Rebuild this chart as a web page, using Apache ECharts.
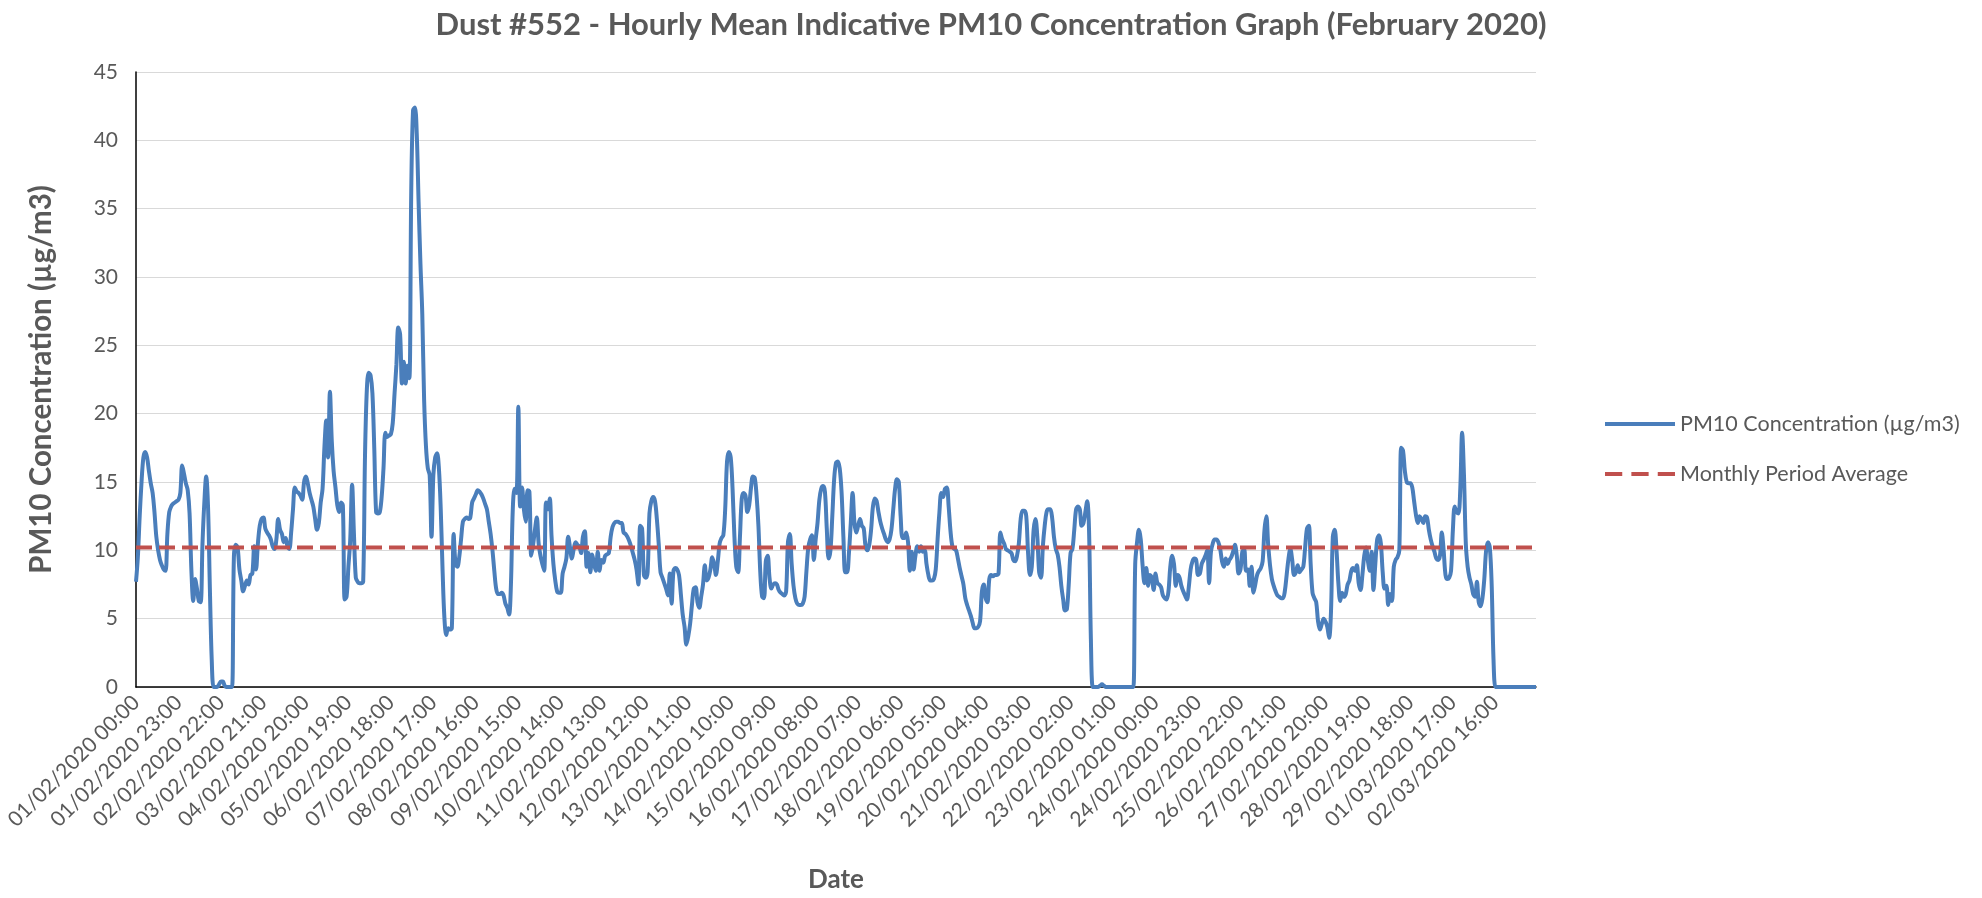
<!DOCTYPE html>
<html>
<head>
<meta charset="utf-8">
<script src="https://cdn.jsdelivr.net/npm/echarts@6/dist/echarts.min.js"></script>
<style>
  html, body { margin: 0; padding: 0; background: #fff; }
  #chart { width: 1982px; height: 898px; }
</style>
</head>
<body>
<div id="chart"></div>
<script>
// Hourly PM10 values (µg/m3), one array per day, starting 01/02/2020 00:00
const feb01 = [7.7, 9.5, 12.5, 15.0, 16.8, 17.2, 16.8, 15.8, 14.9, 14.2, 12.8, 11.0, 10.0, 9.3, 8.9, 8.6, 8.5, 11.2, 12.8, 13.2, 13.4, 13.5, 13.6, 13.7];
const feb02 = [14.2, 16.2, 15.6, 14.9, 14.4, 12.7, 8.5, 6.3, 7.9, 7.2, 6.3, 6.2, 10.5, 13.5, 15.4, 13.2, 7.2, 2.0, 0, 0, 0, 0.2, 0.4, 0.4];
const feb03 = [0.1, 0, 0, 0, 0, 9.5, 10.4, 10.2, 8.6, 7.8, 7.0, 7.4, 7.8, 7.5, 8.2, 8.3, 10.3, 8.6, 10.5, 11.8, 12.3, 12.4, 11.6, 11.3];
const feb04 = [11.1, 10.8, 10.3, 10.1, 10.8, 12.3, 11.5, 11.2, 10.6, 10.9, 10.3, 10.1, 11.3, 13.0, 14.6, 14.3, 14.2, 14.0, 13.7, 15.0, 15.4, 14.9, 14.2, 13.7];
const feb05 = [13.2, 12.3, 11.5, 12.0, 13.5, 14.5, 17.5, 19.5, 16.8, 21.6, 18.0, 15.8, 14.6, 13.3, 12.8, 13.5, 13.3, 6.4, 6.6, 8.8, 10.8, 14.8, 11.2, 8.0];
const feb06 = [7.7, 7.6, 7.6, 7.7, 17.0, 21.8, 23.0, 22.8, 21.5, 17.5, 12.8, 12.7, 12.8, 13.9, 16.0, 18.6, 18.3, 18.4, 18.5, 19.3, 21.5, 23.6, 26.3, 25.8];
const feb07 = [22.2, 23.8, 22.2, 23.5, 22.6, 36.0, 42.2, 42.4, 40.5, 35.5, 31.0, 27.3, 21.0, 17.6, 16.0, 15.5, 11.0, 15.5, 16.8, 17.1, 16.0, 13.0, 8.5, 5.0];
const feb08 = [3.8, 4.3, 4.2, 4.3, 11.2, 9.0, 8.8, 9.5, 10.8, 12.1, 12.3, 12.4, 12.3, 12.4, 13.5, 13.8, 14.1, 14.4, 14.3, 14.1, 13.8, 13.4, 13.0, 12.1];
const feb09 = [11.2, 10.0, 8.5, 7.2, 6.8, 6.8, 6.9, 6.7, 6.1, 5.8, 5.3, 7.5, 13.0, 14.5, 14.2, 20.5, 13.2, 14.6, 13.0, 12.1, 14.4, 14.3, 9.6, 10.4];
const feb10 = [11.5, 12.4, 10.5, 9.6, 9.0, 8.5, 13.5, 13.0, 13.8, 11.0, 9.0, 7.8, 7.0, 6.9, 6.9, 8.3, 8.8, 9.4, 11.0, 10.2, 9.4, 10.1, 10.6, 10.4];
const feb11 = [10.3, 9.8, 11.0, 11.4, 8.8, 9.8, 8.4, 9.7, 9.0, 8.5, 9.9, 8.5, 9.3, 9.1, 9.6, 9.7, 9.8, 11.0, 11.7, 12.0, 12.1, 12.1, 12.0, 12.0];
const feb12 = [11.3, 11.2, 11.0, 10.7, 10.3, 9.8, 9.3, 8.6, 7.5, 11.8, 11.6, 8.2, 8.0, 8.4, 12.7, 13.6, 13.9, 13.6, 12.3, 10.5, 8.4, 8.0, 7.6, 7.2];
const feb13 = [6.7, 8.3, 6.1, 8.5, 8.7, 8.6, 8.2, 6.8, 5.3, 4.4, 3.1, 3.7, 4.6, 6.0, 7.2, 7.3, 6.2, 5.8, 6.6, 7.5, 8.9, 7.8, 8.0, 8.6];
const feb14 = [9.5, 9.0, 8.2, 9.2, 10.5, 10.9, 11.1, 13.0, 16.5, 17.2, 16.8, 14.5, 11.0, 8.8, 8.4, 11.0, 13.8, 14.2, 14.0, 12.8, 13.3, 14.6, 15.4, 15.3];
const feb15 = [14.0, 11.8, 8.4, 6.6, 6.5, 9.2, 9.6, 8.0, 7.2, 7.5, 7.6, 7.5, 7.1, 6.9, 6.8, 6.7, 7.0, 10.6, 11.2, 9.0, 7.4, 6.5, 6.1, 6.0];
const feb16 = [6.0, 6.1, 6.6, 8.5, 10.2, 10.8, 11.1, 9.3, 10.8, 12.0, 13.7, 14.5, 14.7, 14.3, 11.6, 9.4, 10.0, 12.5, 15.2, 16.4, 16.5, 16.0, 14.3, 11.0];
const feb17 = [8.4, 8.4, 9.8, 12.0, 14.2, 12.0, 11.3, 11.8, 12.3, 11.8, 11.6, 10.3, 10.0, 10.4, 11.5, 13.2, 13.8, 13.6, 12.8, 12.1, 11.6, 11.2, 10.8, 10.6];
const feb18 = [10.8, 11.5, 13.0, 14.5, 15.2, 15.0, 12.5, 10.9, 10.9, 11.3, 10.6, 8.5, 9.9, 8.6, 9.6, 10.3, 9.9, 10.3, 9.9, 10.0, 9.0, 8.2, 7.8, 7.8];
const feb19 = [7.9, 8.6, 10.8, 12.8, 14.2, 13.9, 14.5, 14.6, 13.2, 11.4, 10.3, 10.1, 10.0, 9.4, 8.7, 8.1, 7.5, 6.5, 6.0, 5.6, 5.2, 4.7, 4.3, 4.3];
const feb20 = [4.4, 4.8, 7.0, 7.5, 6.5, 6.2, 7.9, 8.2, 8.1, 8.2, 8.2, 8.3, 11.3, 10.8, 10.5, 10.1, 10.0, 9.9, 9.8, 9.3, 9.2, 9.6, 10.5, 12.3];
const feb21 = [12.9, 12.9, 12.5, 9.8, 8.2, 8.8, 11.5, 12.3, 11.0, 8.4, 8.0, 10.3, 11.8, 12.8, 13.0, 13.0, 12.4, 11.0, 10.1, 9.7, 8.8, 7.4, 6.4, 5.6];
const feb22 = [5.7, 7.5, 9.8, 10.1, 11.5, 13.0, 13.2, 13.0, 11.8, 12.0, 12.8, 13.6, 11.5, 3.5, 0, 0, 0, 0, 0.1, 0.2, 0.1, 0, 0, 0];
const feb23 = [0, 0, 0, 0, 0, 0, 0, 0, 0, 0, 0, 0, 0, 9.0, 10.6, 11.5, 10.8, 8.9, 7.6, 8.7, 7.4, 8.2, 8.0, 7.1];
const feb24 = [8.3, 7.6, 7.5, 7.3, 6.7, 6.5, 6.4, 7.0, 8.8, 9.6, 9.0, 7.4, 8.2, 8.0, 7.4, 7.0, 6.7, 6.4, 7.3, 8.6, 9.2, 9.4, 9.3, 8.2];
const feb25 = [8.3, 9.0, 9.3, 9.6, 10.0, 7.6, 9.9, 10.5, 10.8, 10.8, 10.6, 10.1, 9.2, 8.8, 9.4, 9.0, 9.3, 9.5, 9.9, 10.4, 9.6, 8.3, 8.6, 9.9];
const feb26 = [10.1, 8.5, 8.6, 7.4, 8.8, 6.9, 7.5, 8.2, 8.5, 8.7, 9.2, 11.5, 12.5, 10.4, 8.9, 7.9, 7.4, 7.0, 6.7, 6.6, 6.5, 6.5, 7.0, 8.2];
const feb27 = [9.4, 10.1, 9.3, 8.2, 8.4, 8.9, 8.4, 8.6, 8.8, 10.2, 11.6, 11.8, 9.0, 6.9, 6.5, 6.2, 4.8, 4.2, 4.6, 5.0, 4.8, 4.4, 3.6, 5.5];
const feb28 = [11.0, 11.5, 10.0, 7.6, 6.3, 6.9, 6.6, 6.8, 7.5, 7.8, 8.5, 8.7, 8.5, 8.9, 7.6, 7.1, 8.2, 9.6, 10.2, 9.2, 8.5, 9.9, 7.1, 9.0];
const feb29 = [10.8, 11.1, 10.5, 8.4, 7.2, 7.4, 6.0, 6.8, 6.3, 8.8, 9.3, 9.5, 10.0, 17.5, 17.3, 15.8, 15.0, 14.9, 14.9, 14.6, 13.6, 12.6, 12.0, 12.5];
const mar01 = [12.3, 12.0, 12.5, 12.4, 11.5, 10.8, 10.3, 9.9, 9.4, 9.3, 9.6, 11.3, 10.0, 8.2, 7.9, 8.0, 8.5, 11.5, 13.2, 12.8, 12.7, 14.5, 18.6, 15.5];
const mar02 = [10.5, 8.8, 8.0, 7.5, 6.8, 6.6, 7.7, 6.2, 5.9, 6.5, 7.9, 10.0, 10.6, 10.2, 7.5, 2.0, 0, 0, 0, 0, 0, 0, 0, 0];
const mar03 = [0, 0, 0, 0, 0, 0, 0, 0, 0, 0, 0, 0, 0, 0, 0];

const monthlyAverage = 10.2;
const seriesNames = ['PM10 Concentration (µg/m3)', 'Monthly Period Average'];
const chartTitle = 'Dust #552 - Hourly Mean Indicative PM10 Concentration Graph (February 2020)';
const yTicks = { min: 0, max: 45, step: 5 };

const pm10 = [].concat(feb01, feb02, feb03, feb04, feb05, feb06, feb07, feb08, feb09, feb10,
  feb11, feb12, feb13, feb14, feb15, feb16, feb17, feb18, feb19, feb20,
  feb21, feb22, feb23, feb24, feb25, feb26, feb27, feb28, feb29, mar01, mar02, mar03);

// hourly category labels from 01/02/2020 00:00
const startUTC = Date.UTC(2020, 1, 1, 0, 0);
const pad = n => String(n).padStart(2, '0');
const categories = pm10.map((_, i) => {
  const d = new Date(startUTC + i * 3600000);
  return pad(d.getUTCDate()) + '/' + pad(d.getUTCMonth() + 1) + '/' + d.getUTCFullYear() + ' ' + pad(d.getUTCHours()) + ':00';
});
const averageLine = categories.map(() => monthlyAverage);

const FONT = 'Lato, "Open Sans", sans-serif';
const GREY = '#595959';

const chart = echarts.init(document.getElementById('chart'), null, { renderer: 'canvas' });
chart.setOption({
  animation: false,
  backgroundColor: '#ffffff',
  title: {
    text: chartTitle,
    left: 'center',
    top: 4,
    textStyle: { fontFamily: FONT, fontSize: 31, fontWeight: 'bold', color: GREY }
  },
  legend: {
    orient: 'vertical',
    left: 1600,
    top: 408,
    itemWidth: 70,
    itemHeight: 14,
    itemGap: 28,
    textStyle: { fontFamily: FONT, fontSize: 21.5, color: GREY },
    data: [
      { name: seriesNames[0], icon: 'path://M0,5 L70,5 L70,9 L0,9 Z' },
      { name: seriesNames[1], icon: 'path://M0,5 L17,5 L17,9 L0,9 Z M26,5 L43,5 L43,9 L26,9 Z M52,5 L69,5 L69,9 L52,9 Z',
        itemStyle: { borderWidth: 0 } }
    ]
  },
  grid: { left: 136, right: 446, top: 72, bottom: 204 },
  xAxis: {
    type: 'category',
    data: categories,
    boundaryGap: false,
    name: 'Date',
    nameLocation: 'middle',
    nameGap: 180,
    nameTextStyle: { fontFamily: FONT, fontSize: 26, fontWeight: 'bold', color: GREY },
    axisLine: { lineStyle: { color: '#000000', width: 1.5 } },
    axisTick: { show: false },
    axisLabel: {
      interval: 22,
      rotate: 45,
      margin: 12,
      fontFamily: FONT,
      fontSize: 21,
      color: GREY
    },
    splitLine: { show: false }
  },
  yAxis: {
    type: 'value',
    min: yTicks.min,
    max: yTicks.max,
    interval: yTicks.step,
    name: 'PM10 Concentration (µg/m3)',
    nameLocation: 'middle',
    nameGap: 80,
    nameTextStyle: { fontFamily: FONT, fontSize: 29.5, fontWeight: 'bold', color: GREY },
    axisLine: { show: true, lineStyle: { color: '#000000', width: 1.5 } },
    axisTick: { show: false },
    axisLabel: { fontFamily: FONT, fontSize: 21, color: GREY, margin: 18 },
    splitLine: { lineStyle: { color: '#d9d9d9', width: 1 } }
  },
  series: [
    {
      name: seriesNames[0],
      type: 'line',
      data: pm10,
      symbol: 'none',
      smooth: 0.35,
      lineStyle: { color: '#4a7ebb', width: 4 },
      itemStyle: { color: '#4a7ebb' },
      z: 3
    },
    {
      name: seriesNames[1],
      type: 'line',
      data: averageLine,
      symbol: 'none',
      lineStyle: { color: '#c0504d', width: 4, type: [16, 7] },
      itemStyle: { color: '#c0504d' },
      z: 4
    }
  ]
});
</script>
</body>
</html>
